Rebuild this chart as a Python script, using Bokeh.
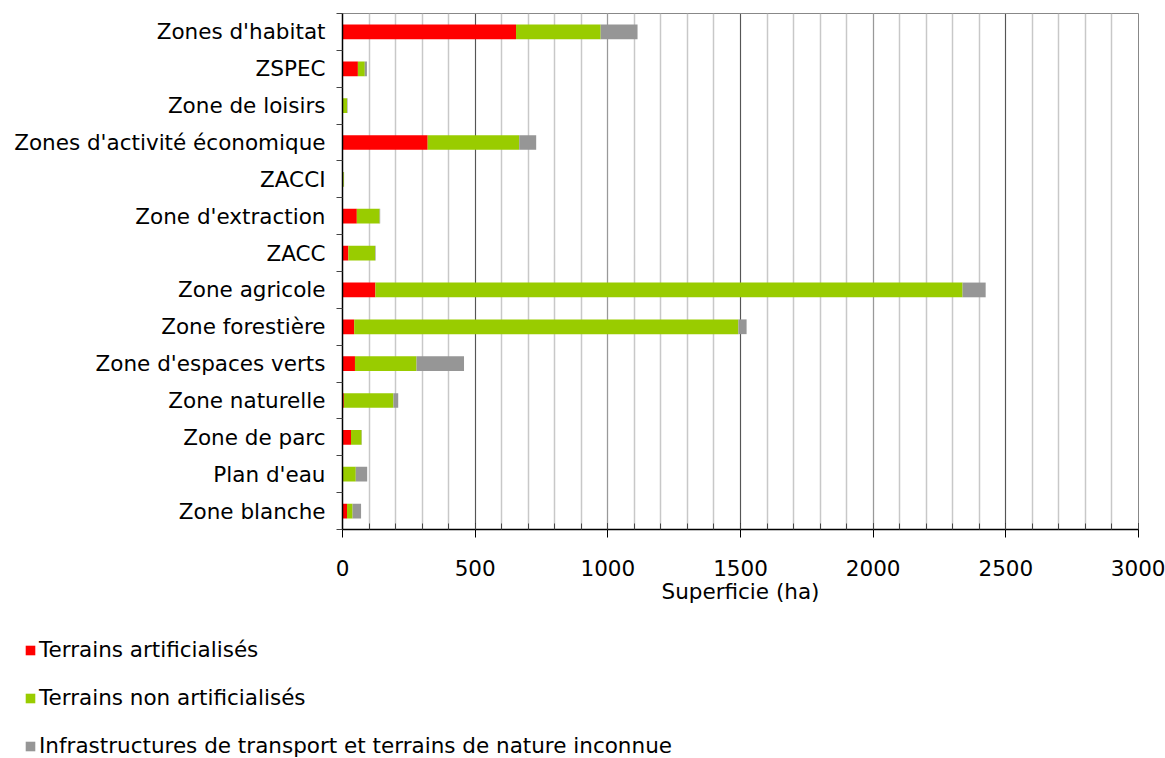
from bokeh.plotting import figure
from bokeh.layouts import column, row
from bokeh.models import (ColumnDataSource, Range1d, LinearAxis, FixedTicker, Grid, Legend, LegendItem)
from bokeh.embed import file_html
from bokeh.resources import INLINE

categories = ["Zones d'habitat", "ZSPEC", "Zone de loisirs", "Zones d'activité économique",
              "ZACCI", "Zone d'extraction", "ZACC", "Zone agricole", "Zone forestière",
              "Zone d'espaces verts", "Zone naturelle", "Zone de parc", "Plan d'eau", "Zone blanche"]
artificialises = [654, 58, 0, 321, 0, 54, 22, 124, 44, 47, 5, 32, 0, 17]
non_artificialises = [319, 26, 17, 345, 5, 86, 101, 2213, 1448, 232, 187, 40, 50, 21]
infrastructures = [139, 8, 2, 64, 1, 2, 2, 87, 31, 179, 18, 1, 43, 32]
series_names = ["Terrains artificialisés", "Terrains non artificialisés",
                "Infrastructures de transport et terrains de nature inconnue"]
x_ticks = [0, 500, 1000, 1500, 2000, 2500, 3000]
x_title = "Superficie (ha)"

colors = ["#FF0000", "#99CC00", "#969696"]
FONT = "DejaVu Sans"
FS = "21.5px"

n = len(categories)
pos = [n - 1 - i for i in range(n)]  # first category at top
source = ColumnDataSource(dict(y=pos, a=artificialises, b=non_artificialises, c=infrastructures))

p = figure(width=1165, height=620, output_backend="svg", toolbar_location=None,
           y_range=Range1d(-0.5, n - 0.5), x_range=Range1d(0, 3000),
           y_axis_location=None, min_border_left=342, min_border_right=27,
           min_border_top=13, min_border_bottom=91)
p.outline_line_color = "#888888"
p.background_fill_color = "white"
p.border_fill_color = "white"

renderers = p.hbar_stack(["a", "b", "c"], y="y", height=0.4, color=colors, line_color=None,
                         source=source)

# x axis
xa = p.xaxis[0]
xa.ticker = FixedTicker(ticks=x_ticks, minor_ticks=list(range(0, 3001, 100)))
xa.axis_line_color = "black"
xa.axis_line_width = 1.5
xa.major_tick_line_color = "black"
xa.major_tick_in = 6
xa.major_tick_out = 8
xa.minor_tick_line_color = "#444444"
xa.minor_tick_in = 6
xa.minor_tick_out = 0
xa.major_label_text_font = FONT
xa.major_label_text_font_size = FS
xa.major_label_text_color = "black"
xa.major_label_standoff = 22
xa.axis_label = x_title
xa.axis_label_text_font = FONT
xa.axis_label_text_font_size = FS
xa.axis_label_text_font_style = "normal"
xa.axis_label_text_color = "black"
xa.axis_label_standoff = 0

# grids
p.xgrid.ticker = FixedTicker(ticks=x_ticks, minor_ticks=list(range(0, 3001, 100)))
p.xgrid.grid_line_color = "#999999"
p.xgrid.minor_grid_line_color = "#c8c8c8"
p.xgrid.minor_grid_line_width = 1.5
p.ygrid.grid_line_color = None
p.add_layout(Grid(dimension=0, ticker=FixedTicker(ticks=[500, 1500, 2500]), grid_line_color="#555555"))

# left axis: labels at category centres, small ticks at category boundaries
label_axis = LinearAxis(ticker=FixedTicker(ticks=pos, minor_ticks=[k - 0.5 for k in range(n + 1)]),
                        major_label_overrides={pv: c for pv, c in zip(pos, categories)},
                        axis_line_color="black", axis_line_width=1.5,
                        major_tick_line_color=None, major_tick_in=0, major_tick_out=0,
                        minor_tick_line_color="#444444", minor_tick_in=0, minor_tick_out=6,
                        major_label_text_font=FONT, major_label_text_font_size=FS,
                        major_label_text_color="black", major_label_standoff=11)
p.add_layout(label_axis, "left")

# legend panel (separate figure below the chart); its renderers are hidden copies of the series
lf = figure(width=1165, height=138, output_backend="svg", toolbar_location=None,
            x_axis_location=None, y_axis_location=None,
            min_border_left=0, min_border_right=0, min_border_top=0, min_border_bottom=0,
            x_range=Range1d(0, 1), y_range=Range1d(0, 1))
lf.outline_line_color = None
lf.xgrid.grid_line_color = None
lf.ygrid.grid_line_color = None
leg_renderers = lf.hbar_stack(["a", "b", "c"], y="y", height=0.4, color=colors, line_color=None,
                              source=source)
items = []
for name, r in zip(series_names, leg_renderers):
    r.visible = False
    items.append(LegendItem(label=name, renderers=[r]))
lg = Legend(items=items, location=(24, 0), orientation="vertical",
            border_line_color=None, background_fill_alpha=0, padding=0, margin=0,
            glyph_width=12, glyph_height=12, label_standoff=3, label_height=24, spacing=23,
            label_text_font=FONT, label_text_font_size=FS, label_text_color="black",
            inactive_fill_alpha=0)
lf.add_layout(lg, "center")

layout = column(p, row(lf), spacing=0)
open("out.html", "w").write(file_html(layout, INLINE))
